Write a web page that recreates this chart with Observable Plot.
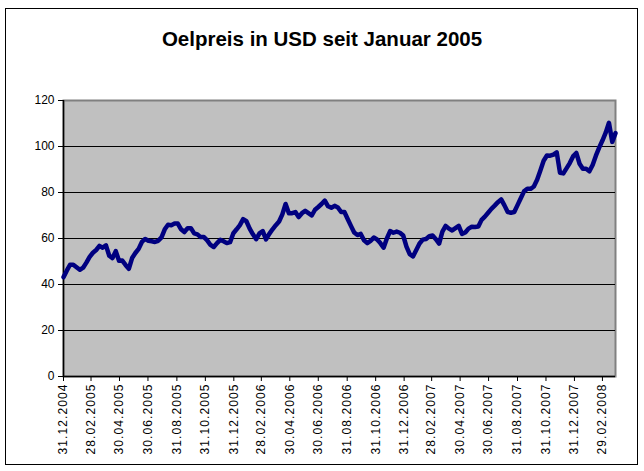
<!DOCTYPE html>
<html>
<head>
<meta charset="utf-8">
<script src="https://cdn.jsdelivr.net/npm/d3@7"></script>
<script src="https://cdn.jsdelivr.net/npm/@observablehq/plot@0.6"></script>
<style>
  html, body { margin: 0; padding: 0; background: #fff; }
  #wrap { position: relative; width: 644px; height: 471px; font-family: "Liberation Sans", Arial, sans-serif; }
  #border { position: absolute; left: 5px; top: 8px; width: 633px; height: 457px; border: 1px solid #000; box-sizing: border-box; }
  #title { position: absolute; left: 0; width: 644px; top: 27px; text-align: center; font-weight: bold; font-size: 20.5px; color: #000; }
  #chart { position: absolute; left: 0; top: 0; }
  #chart svg g[aria-label="x-axis tick label"] text { letter-spacing: 1.1px; }
</style>
</head>
<body>
<div id="wrap">
  <div id="border"></div>
  <div id="title">Oelpreis in USD seit Januar 2005</div>
  <div id="chart"></div>
</div>
<script>
// Weekly oil price (USD), Fridays starting 31.12.2004
const startDate = "2004-12-31";
const oilPrice = [
  43.2, 46.0, 48.6, 48.6, 47.5, 46.4, 47.3, 49.5, 52.0, 53.8,
  55.0, 56.8, 56.0, 57.0, 52.5, 51.5, 54.5, 50.3, 50.4, 48.5,
  46.8, 51.5, 53.7, 55.5, 58.5, 59.8, 59.0, 58.8, 58.5, 59.0,
  60.5, 64.0, 66.0, 65.8, 66.5, 66.5, 64.0, 62.8, 64.5, 64.5,
  62.2, 61.8, 60.6, 60.6, 59.2, 57.2, 56.3, 58.0, 59.4, 58.8,
  58.0, 58.4, 62.3, 64.0, 65.8, 68.4, 67.5, 64.3, 61.8, 59.7,
  62.2, 63.2, 59.6, 62.0, 64.0, 65.8, 67.4, 70.5, 75.0, 71.0,
  71.0, 71.5, 69.3, 71.0, 72.0, 71.0, 70.0, 72.5, 73.7, 75.0,
  76.5, 74.0, 73.4, 74.2, 73.5, 71.5, 71.5, 68.5, 65.5, 62.6,
  61.5, 62.0, 59.2, 58.0, 59.0, 60.4, 59.6, 58.0, 56.0, 60.0,
  63.2, 62.5, 63.0, 62.5, 61.3, 56.5, 53.2, 52.2, 55.0, 57.8,
  59.5, 59.8, 61.0, 61.3, 59.7, 57.8, 63.0, 65.5, 64.3, 63.5,
  64.5, 65.5, 62.0, 62.6, 64.3, 65.1, 65.0, 65.2, 68.1, 69.5,
  71.2, 72.9, 74.3, 75.8, 77.0, 74.4, 71.5, 71.2, 71.5, 74.5,
  77.5, 80.5, 81.6, 81.6, 82.6, 85.5, 89.6, 93.8, 96.1, 96.0,
  96.5, 97.5, 88.6, 88.3, 90.5, 92.8, 95.7, 97.2, 92.5, 90.3,
  90.3, 89.2, 92.0, 96.0, 99.5, 102.6, 106.0, 110.3, 102.0, 105.8
];
const xTickLabels = [
  "31.12.2004", "28.02.2005", "30.04.2005", "30.06.2005", "31.08.2005",
  "31.10.2005", "31.12.2005", "28.02.2006", "30.04.2006", "30.06.2006",
  "31.08.2006", "31.10.2006", "31.12.2006", "28.02.2007", "30.04.2007",
  "30.06.2007", "31.08.2007", "31.10.2007", "31.12.2007", "29.02.2008"
];
const yTicks = [0, 20, 40, 60, 80, 100, 120];
const gridValues = [20, 40, 60, 80, 100];

const parseDE = d3.utcParse("%d.%m.%Y");
const fmtDE = d3.utcFormat("%d.%m.%Y");
const start = d3.utcParse("%Y-%m-%d")(startDate);
const data = oilPrice.map((v, i) => ({date: d3.utcDay.offset(start, 7 * i), value: v}));
const tickDates = xTickLabels.map(parseDE);
const lastDate = data[data.length - 1].date;

const chart = Plot.plot({
  width: 644,
  height: 471,
  marginTop: 100,
  marginLeft: 63,
  marginRight: 29,
  marginBottom: 95,
  style: {fontFamily: "Liberation Sans, Arial, sans-serif", fontSize: "12px", color: "#000", background: "transparent"},
  x: {type: "utc", domain: [start, lastDate]},
  y: {domain: [0, 120]},
  marks: [
    Plot.frame({fill: "#c0c0c0", stroke: "#808080", strokeWidth: 2}),
    Plot.ruleY(gridValues, {stroke: "#000", strokeWidth: 1}),
    Plot.ruleY([0], {stroke: "#000", strokeWidth: 1.5}),
    Plot.ruleX([start], {stroke: "#000", strokeWidth: 1.5}),
    Plot.axisY({ticks: yTicks, tickSize: 5, tickPadding: 4, label: null, fontSize: 12}),
    Plot.axisX({ticks: tickDates, tickFormat: fmtDE, tickSize: 5, tickPadding: 2, tickRotate: -90, label: null, fontSize: 12}),
    Plot.line(data, {x: "date", y: "value", stroke: "#000080", strokeWidth: 4.5, strokeLinejoin: "round", strokeLinecap: "round"})
  ]
});
document.getElementById("chart").appendChild(chart);
</script>
</body>
</html>
